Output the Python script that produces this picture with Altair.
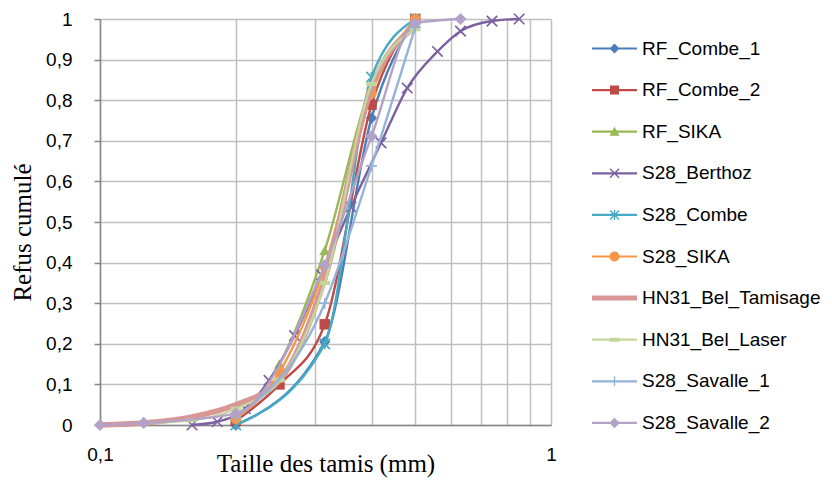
import altair as alt
import pandas as pd

# ---------------- data ----------------
SERIES = ["RF_Combe_1", "RF_Combe_2", "RF_SIKA", "S28_Berthoz", "S28_Combe",
          "S28_SIKA", "HN31_Bel_Tamisage", "HN31_Bel_Laser", "S28_Savalle_1", "S28_Savalle_2"]

rf_combe_1_x = [0.2, 0.315, 0.4, 0.5]
rf_combe_1_y = [0.0, 0.205, 0.756, 1.0]

rf_combe_2_x = [0.2, 0.25, 0.315, 0.4, 0.5]
rf_combe_2_y = [0.01, 0.10, 0.248, 0.789, 1.0]

rf_sika_x = [0.2, 0.25, 0.315, 0.4, 0.5]
rf_sika_y = [0.02, 0.15, 0.43, 0.84, 0.99]

s28_berthoz_x = [0.16, 0.182, 0.21, 0.237, 0.27, 0.31, 0.36, 0.42, 0.48, 0.56, 0.63, 0.74, 0.85]
s28_berthoz_y = [0.0, 0.008, 0.04, 0.11, 0.22, 0.37, 0.537, 0.695, 0.83, 0.92, 0.97, 0.995, 1.0]

s28_combe_x = [0.2, 0.315, 0.4, 0.5]
s28_combe_y = [0.0, 0.20, 0.857, 1.0]

s28_sika_x = [0.2, 0.25, 0.315, 0.4, 0.5]
s28_sika_y = [0.015, 0.13, 0.39, 0.817, 1.0]

hn31_tamisage_x = [0.1, 0.125, 0.16, 0.2, 0.25, 0.315, 0.4, 0.5]
hn31_tamisage_y = [0.0, 0.005, 0.02, 0.05, 0.11, 0.36, 0.83, 0.98]

hn31_laser_x = [0.125, 0.16, 0.2, 0.25, 0.315, 0.4, 0.5]
hn31_laser_y = [0.005, 0.012, 0.04, 0.11, 0.35, 0.84, 0.975]

s28_savalle_1_x = [0.2, 0.315, 0.4, 0.5]
s28_savalle_1_y = [0.02, 0.30, 0.638, 0.98]

s28_savalle_2_x = [0.1, 0.125, 0.2, 0.315, 0.4, 0.5, 0.63]
s28_savalle_2_y = [0.0, 0.005, 0.028, 0.394, 0.711, 0.99, 1.0]

X_LISTS = [rf_combe_1_x, rf_combe_2_x, rf_sika_x, s28_berthoz_x, s28_combe_x,
           s28_sika_x, hn31_tamisage_x, hn31_laser_x, s28_savalle_1_x, s28_savalle_2_x]
Y_LISTS = [rf_combe_1_y, rf_combe_2_y, rf_sika_y, s28_berthoz_y, s28_combe_y,
           s28_sika_y, hn31_tamisage_y, hn31_laser_y, s28_savalle_1_y, s28_savalle_2_y]

X_GRID = [0.1, 0.2, 0.3, 0.4, 0.5, 0.6, 0.7, 0.8, 0.9, 1.0]
Y_TICKS = [0.0, 0.1, 0.2, 0.3, 0.4, 0.5, 0.6, 0.7, 0.8, 0.9, 1.0]

# ---------------- styles ----------------
COLORS = ["#4A7EBB", "#BE4B48", "#98B954", "#7D60A0", "#46AAC5",
          "#F79646", "#D99694", "#C3D69B", "#95B3D7", "#B3A2C7"]
WIDTHS = [2.4, 2.4, 2.4, 2.4, 2.4, 2.4, 5.5, 2.4, 2.4, 2.4]

XPATH = "M-1,-1L1,1M-1,1L1,-1"
ASTER = "M-1,-1L1,1M-1,1L1,-1M0,-1L0,1"
PLUS = "M-1,0L1,0M0,-1L0,1"
DASH = "M-1,-0.4H1V0.4H-1Z"
# (shape, filled, size)
MARKERS = [("diamond", True, 130), ("square", True, 110), ("triangle-up", True, 120),
           (XPATH, False, 110), (ASTER, False, 110), ("circle", True, 110),
           (None, True, 0), (DASH, True, 110), (PLUS, False, 120), ("diamond", True, 150)]

LINE = "M-4.5,-0.22H4.5V0.22H-4.5Z"
THICK = "M-4.5,-0.5H4.5V0.5H-4.5Z"
VBAR = "M-0.14,-1H0.14V1H-0.14Z"
XPOLY = "M-1,-0.8L-0.8,-1L1,0.8L0.8,1Z M-1,0.8L0.8,-1L1,-0.8L-0.8,1Z"
LEG_PATHS = [
    LINE + " M-1,0L0,-1L1,0L0,1Z",
    LINE + " M-0.9,-0.9H0.9V0.9H-0.9Z",
    LINE + " M0,-1L1,0.8H-1Z",
    LINE + " " + XPOLY,
    LINE + " " + XPOLY + " " + VBAR,
    LINE + " M-1,0A1,1 0 1,1 1,0A1,1 0 1,1 -1,0Z",
    THICK,
    LINE + " M-1,-0.4H1V0.4H-1Z",
    LINE + " " + VBAR,
    LINE + " M-1.05,0L0,-1.05L1.05,0L0,1.05Z",
]

rows = []
for s, xs, ys in zip(SERIES, X_LISTS, Y_LISTS):
    for xv, yv in zip(xs, ys):
        rows.append({"series": s, "x": xv, "y": yv})
df = pd.DataFrame(rows)

LABEL_FONT = "Liberation Sans"
TITLE_FONT = "Liberation Serif"

x_axis = alt.Axis(
    values=X_GRID, labelExpr="datum.value == 0.1 ? '0,1' : (datum.value == 1 ? '1' : '')",
    labelOverlap=False, ticks=False, grid=True, gridColor="#BFBFBF", gridWidth=1.5,
    domainColor="#878787", domainWidth=1.5, labelFont=LABEL_FONT, labelFontSize=19,
    labelColor="#000000", labelPadding=20, labelFlush=False,
    titleFont=TITLE_FONT, titleFontSize=25, titleFontWeight="normal", titleColor="#000000",
    titleY=26)
y_axis = alt.Axis(
    values=Y_TICKS, labelExpr="replace(format(datum.value, '.1~f'), '.', ',')",
    grid=True, gridColor="#BFBFBF", gridWidth=1.5, domainColor="#878787", domainWidth=1.5,
    tickColor="#878787", tickSize=6, tickWidth=1.5, labelFont=LABEL_FONT, labelFontSize=19,
    labelColor="#000000", labelPadding=22, labelFlush=False,
    titleFont=TITLE_FONT, titleFontSize=25, titleFontWeight="normal", titleColor="#000000",
    titlePadding=10, titleY=213)

x_enc = alt.X("x:Q", scale=alt.Scale(type="log", domain=[0.1, 1.0]), axis=x_axis,
              title="Taille des tamis (mm)")
y_enc = alt.Y("y:Q", scale=alt.Scale(domain=[0, 1], nice=False), axis=y_axis,
              title="Refus cumulé")

base = alt.Chart(df)

layers = []
for s, col, w, (shape, filled, size) in zip(SERIES, COLORS, WIDTHS, MARKERS):
    sub = base.transform_filter(alt.datum.series == s)
    layers.append(
        sub.mark_line(interpolate="monotone", color=col, strokeWidth=w)
        .encode(x=x_enc, y=y_enc)
    )
    if shape is not None:
        layers.append(
            sub.mark_point(shape=shape, filled=filled, size=size, color=col, opacity=1,
                           strokeWidth=1.7)
            .encode(x=x_enc, y=y_enc)
        )

# legend-only layer: marks pushed out of the clipped plot area, legend kept
leg = alt.Legend(title=None, orient="none", legendX=505, legendY=20, symbolSize=100,
                 labelFont=LABEL_FONT, labelFontSize=19, labelColor="#000000",
                 rowPadding=21.6, labelOffset=18, symbolStrokeWidth=0, symbolOpacity=1,
                 labelLimit=400)
legend_layer = base.mark_point(filled=True, clip=True, yOffset=5000).encode(
    x=x_enc, y=y_enc,
    color=alt.Color("series:N", scale=alt.Scale(domain=SERIES, range=COLORS), legend=leg),
    shape=alt.Shape("series:N", scale=alt.Scale(domain=SERIES, range=LEG_PATHS), legend=leg),
)
layers.append(legend_layer)

chart = alt.layer(*layers).properties(
    width=451, height=406,
    autosize=alt.AutoSizeParams(type="none"),
    padding={"left": 92, "top": 11, "right": 273, "bottom": 55},
    background="white",
).configure_view(stroke=None)

chart.save("out.html", embed_options={"renderer": "svg", "actions": False})
